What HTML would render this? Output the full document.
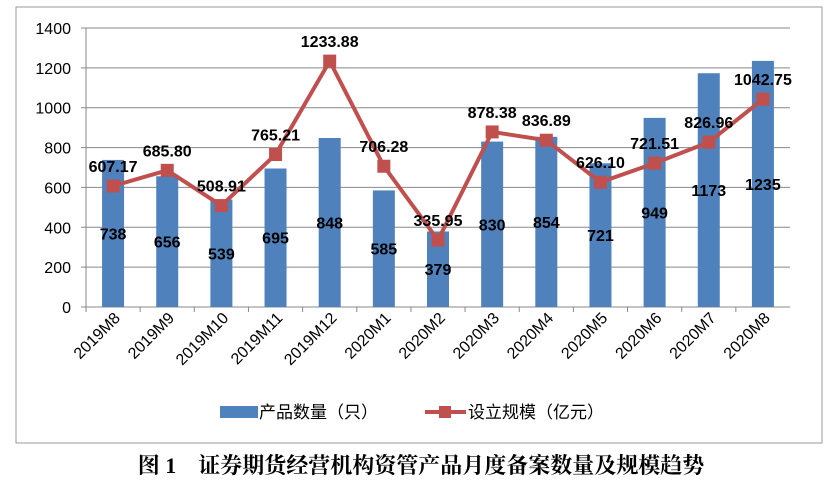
<!DOCTYPE html>
<html><head><meta charset="utf-8"><style>
body{margin:0;background:#fff;width:828px;height:487px;overflow:hidden}
svg text{font-family:"Liberation Sans","Noto Sans CJK SC",sans-serif}
</style></head><body>
<svg width="828" height="487">
<rect x="16" y="7" width="806" height="436" fill="#fff" stroke="#999"/>
<g id="grid"></g><g id="bars"></g><g id="line"></g><g id="labels"></g><g id="axes"></g>
<g>
<rect x="220" y="406" width="38" height="12" fill="#4f81bd"/>
<text x="259" y="418" font-size="17" fill="#000">产品数量（只）</text>
<line x1="425" y1="412" x2="466" y2="412" stroke="#c0504d" stroke-width="4"/>
<rect x="439" y="406" width="12" height="12" fill="#c0504d"/>
<text x="468" y="418" font-size="17" fill="#000">设立规模（亿元）</text>
</g>
<text x="421" y="473" text-anchor="middle" font-size="22" font-weight="bold" style="font-family:'Liberation Serif','Noto Serif CJK SC',serif">图 1　证券期货经营机构资管产品月度备案数量及规模趋势</text>
</svg>
<script>
const categories=["2019M8","2019M9","2019M10","2019M11","2019M12","2020M1","2020M2","2020M3","2020M4","2020M5","2020M6","2020M7","2020M8"];
const counts=[738,656,539,695,848,585,379,830,854,721,949,1173,1235];
const scales=[607.17,685.80,508.91,765.21,1233.88,706.28,335.95,878.38,836.89,626.10,721.51,826.96,1042.75];
const yTicks=[0,200,400,600,800,1000,1200,1400];
const NS="http://www.w3.org/2000/svg";
const x0=86,x1=790,y0=307,yTop=28,yMax=1400;
const step=(x1-x0)/categories.length;
const X=i=>x0+step*(i+0.5);
const Y=v=>y0-(v/yMax)*(y0-yTop);
function mk(tag,attrs,parent,txt){const e=document.createElementNS(NS,tag);for(const k in attrs)e.setAttribute(k,attrs[k]);if(txt!==undefined)e.textContent=txt;document.getElementById(parent).appendChild(e);return e;}
yTicks.forEach(t=>{
 const g=mk('line',{x1:x0-5,x2:x1,y1:Y(t),y2:Y(t),stroke:'#888','stroke-width':1},'grid');
 
 
 const l=mk('text',{x:x0-15,y:Y(t)+6,'text-anchor':'end','font-size':16},'axes',t);
 
 
});
let a=mk('line',{x1:x0,x2:x0,y1:yTop,y2:y0,stroke:'#888'},'axes');


categories.forEach((c,i)=>{
 const tk=mk('line',{x1:x0+step*i,x2:x0+step*i,y1:y0,y2:y0+5,stroke:'#888'},'axes');
 
 
 const t=mk('text',{x:X(i)+8,y:y0+12,'text-anchor':'end','font-size':16,transform:`rotate(-45 ${X(i)+8} ${y0+12})`},'axes',c);
 
 
 const b=mk('rect',{x:X(i)-11,y:Y(counts[i]),width:22,height:y0-Y(counts[i]),fill:'#4f81bd'},'bars');
 
 
 const bl=mk('text',{x:X(i),y:Y(counts[i]/2)+6,'text-anchor':'middle','font-size':16,'font-weight':'bold'},'labels',counts[i]);
 
 
});
const pl=mk('polyline',{points:scales.map((v,i)=>X(i)+','+Y(v)).join(' '),fill:'none',stroke:'#c0504d','stroke-width':4},'line');


scales.forEach((v,i)=>{
 const m=mk('rect',{x:X(i)-6.5,y:Y(v)-6.5,width:13,height:13,fill:'#c0504d'},'line');
 
 
 const t=mk('text',{x:X(i),y:Y(v)-14,'text-anchor':'middle','font-size':16,'font-weight':'bold'},'labels',v.toFixed(2));
 
 
});
</script>
</body></html>
